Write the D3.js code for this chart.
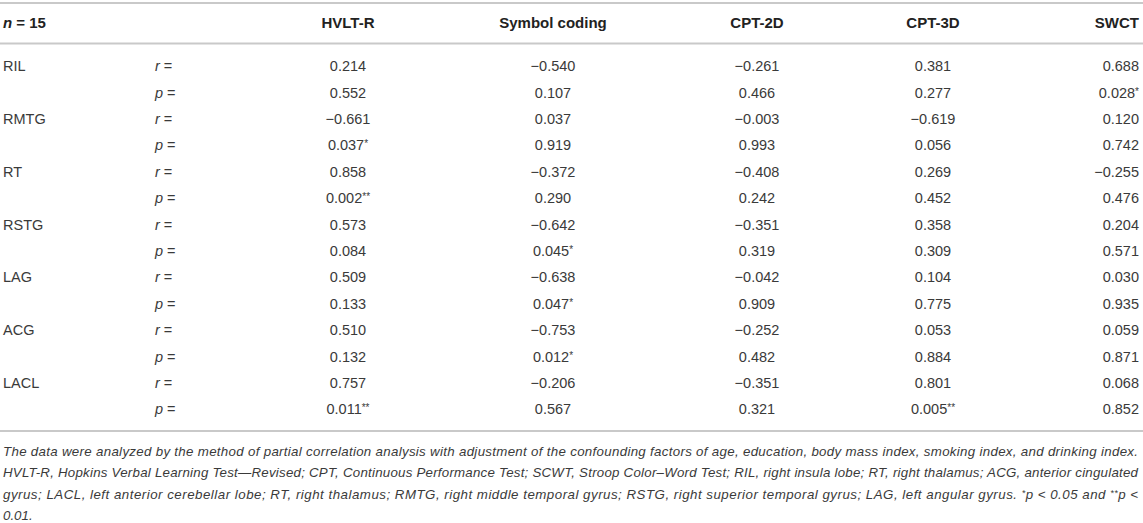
<!DOCTYPE html>
<html>
<head>
<meta charset="utf-8">
<script src="https://cdn.jsdelivr.net/npm/d3@7"></script>
<style>
  body { margin: 0; background: #fff; }
  text { font-family: "Liberation Sans", Arial, sans-serif; fill: #3a3a3a; }
</style>
</head>
<body>
<script>
const width = 1143,
    height = 523;

// table content
const tests = ['HVLT-R', 'Symbol coding', 'CPT-2D', 'CPT-3D', 'SWCT'];
const regions = ['RIL', 'RMTG', 'RT', 'RSTG', 'LAG', 'ACG', 'LACL'];

const hvltR   = [0.214, -0.661, 0.858, 0.573, 0.509, 0.510, 0.757];
const hvltP   = ['0.552', '0.037*', '0.002**', '0.084', '0.133', '0.132', '0.011**'];
const symbolR = [-0.540, 0.037, -0.372, -0.642, -0.638, -0.753, -0.206];
const symbolP = ['0.107', '0.919', '0.290', '0.045*', '0.047*', '0.012*', '0.567'];
const cpt2dR  = [-0.261, -0.003, -0.408, -0.351, -0.042, -0.252, -0.351];
const cpt2dP  = ['0.466', '0.993', '0.242', '0.319', '0.909', '0.482', '0.321'];
const cpt3dR  = [0.381, -0.619, 0.269, 0.358, 0.104, 0.053, 0.801];
const cpt3dP  = ['0.277', '0.056', '0.452', '0.309', '0.775', '0.884', '0.005**'];
const swctR   = [0.688, 0.120, -0.255, 0.204, 0.030, 0.059, 0.068];
const swctP   = ['0.028*', '0.742', '0.476', '0.571', '0.935', '0.871', '0.852'];

const footnote = [
  'The data were analyzed by the method of partial correlation analysis with adjustment of the confounding factors of age, education, body mass index, smoking index, and drinking index.',
  'HVLT-R, Hopkins Verbal Learning Test\u2014Revised; CPT, Continuous Performance Test; SCWT, Stroop Color\u2013Word Test; RIL, right insula lobe; RT, right thalamus; ACG, anterior cingulated',
  'gyrus; LACL, left anterior cerebellar lobe; RT, right thalamus; RMTG, right middle temporal gyrus; RSTG, right superior temporal gyrus; LAG, left angular gyrus. ',
  '0.01.'
];

const rValues = [hvltR, symbolR, cpt2dR, cpt3dR, swctR];
const pValues = [hvltP, symbolP, cpt2dP, cpt3dP, swctP];

let svg = d3.select('body').append('svg')
    .attr('width', width)
    .attr('height', height);

// one row per r / p line
let rows = [];
regions.forEach((reg, i) => {
    rows.push({key: reg + '-r', region: reg, stat: 'r',
        cells: rValues.map(col => d3.format('.3f')(col[i]).replace('-', '\u2212'))});
    rows.push({key: reg + '-p', region: '', stat: 'p',
        cells: pValues.map(col => col[i])});
});

let y = d3.scalePoint()
    .domain(rows.map(d => d.key))
    .range([66, 409]);

let x = d3.scaleOrdinal()
    .domain(tests)
    .range([348, 553, 757, 933, 1139]);

const anchorFor = t => t === 'SWCT' ? 'end' : 'middle';
const fs = 14.5;

// rules
svg.selectAll('line.rule')
    .data([3, 43.5, 431])
    .enter().append('line')
    .attr('class', 'rule')
    .attr('x1', 0).attr('x2', width)
    .attr('y1', d => d).attr('y2', d => d)
    .attr('stroke', '#c9c9c9')
    .attr('stroke-width', 2);

// header
let head = svg.append('g').attr('font-weight', 'bold').attr('font-size', 15);
let nLabel = head.append('text').attr('x', 3).attr('y', 28).style('fill', '#222');
nLabel.append('tspan').attr('font-style', 'italic').text('n');
nLabel.append('tspan').text(' = 15');

head.selectAll('text.col')
    .data(tests)
    .enter().append('text')
    .attr('class', 'col')
    .attr('x', d => x(d))
    .attr('y', 28)
    .attr('text-anchor', anchorFor)
    .style('fill', '#222')
    .text(d => d);

// body rows
let row = svg.selectAll('g.row')
    .data(rows)
    .enter().append('g')
    .attr('class', 'row')
    .attr('font-size', fs)
    .attr('transform', d => `translate(0,${y(d.key) + 5.3})`);

row.append('text')
    .attr('x', 3)
    .text(d => d.region);

let statLabel = row.append('text').attr('x', 155);
statLabel.append('tspan').attr('font-style', 'italic').text(d => d.stat);
statLabel.append('tspan').text(' =');

row.each(function(d) {
    let g = d3.select(this);
    d.cells.forEach((val, j) => {
        let m = val.match(/^([^*]*)(\**)$/);
        let t = g.append('text')
            .attr('x', x(tests[j]))
            .attr('text-anchor', anchorFor(tests[j]));
        t.append('tspan').text(m[1]);
        if (m[2]) {
            t.append('tspan').attr('font-size', 10).attr('dy', -3).text(m[2]);
        }
    });
});

// footnote
let foot = svg.append('g')
    .attr('font-size', 13.3)
    .attr('font-style', 'italic');

foot.selectAll('text')
    .data(footnote)
    .enter().append('text')
    .attr('x', 3)
    .attr('y', (d, i) => 455.5 + i * 21.5)
    .each(function(d, i) {
        let t = d3.select(this);
        t.append('tspan').text(d);
        if (i === 2) {
            t.append('tspan').attr('font-size', 9).attr('dy', -3).text('*');
            t.append('tspan').attr('dy', 3).text('p < 0.05 and ');
            t.append('tspan').attr('font-size', 9).attr('dy', -3).text('**');
            t.append('tspan').attr('dy', 3).text('p <');
        }
        if (i < 3) {
            t.attr('textLength', 1135).attr('lengthAdjust', 'spacing');
        }
    });
</script>
</body>
</html>
